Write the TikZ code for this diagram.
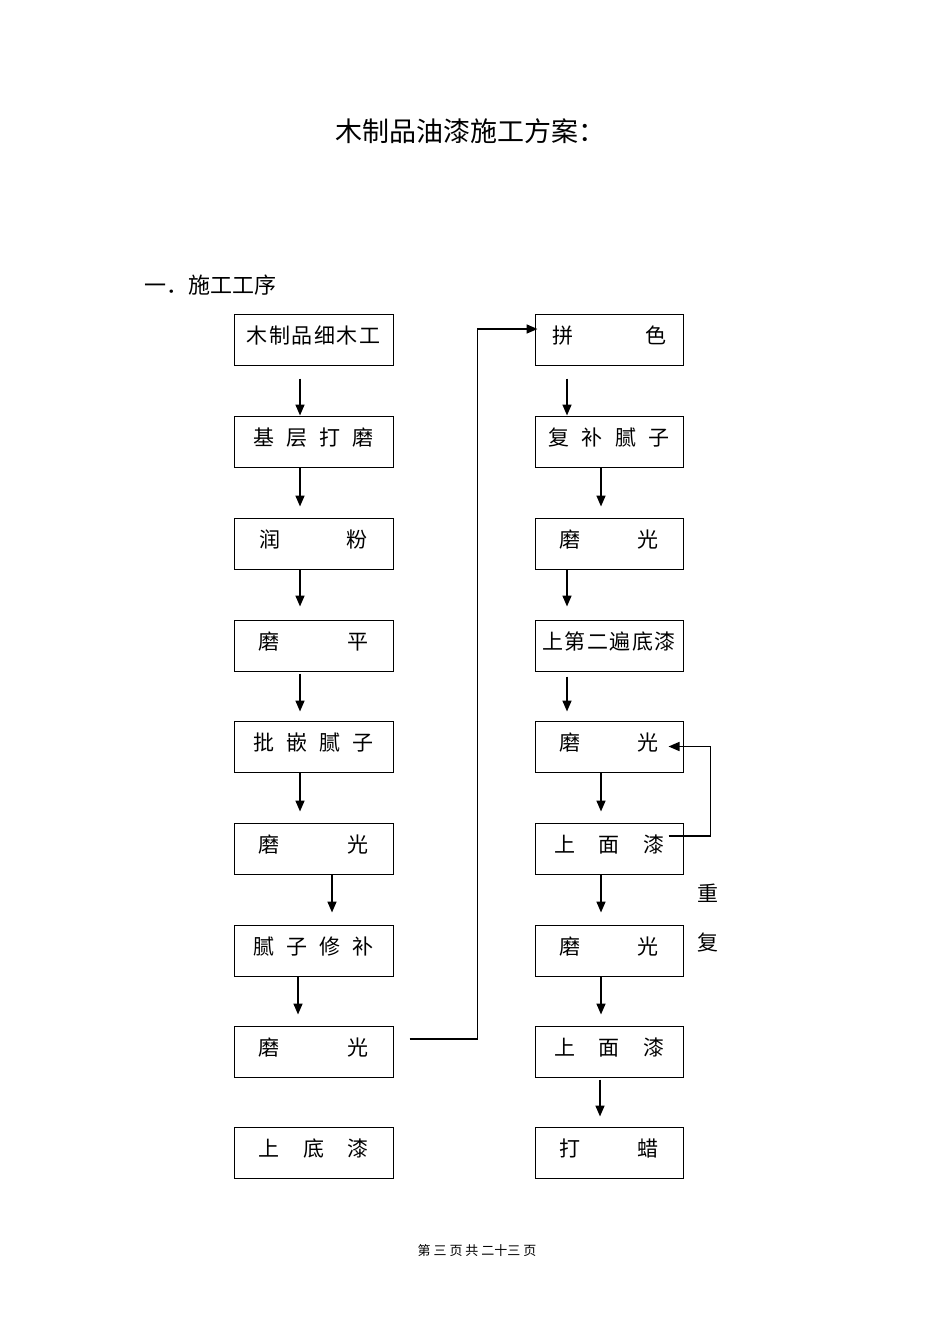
\documentclass[tikz,border=0pt]{standalone}
\usepackage{fontspec}
\newfontfamily\cjk{Noto Sans CJK SC}
\usetikzlibrary{arrows.meta}
\newcommand{\spr}[2]{\makebox[#1pt]{#2}}
\begin{document}
\begin{tikzpicture}[x=1pt,y=-1pt,>={Triangle[length=11pt,width=9pt]},
  box/.style={draw,line width=1pt,minimum height=51pt,inner sep=0pt,
    text height=18pt,text depth=10pt,
    font=\cjk\fontsize{21}{21}\selectfont},
  lbox/.style={box,minimum width=159pt},
  rbox/.style={box,minimum width=148pt},
  arr/.style={->,line width=1.6pt}]
\useasboundingbox (0,0) rectangle (950,1344);

\node[font=\cjk\fontsize{27}{27}\selectfont] (title) at (470,131) {木制品油漆施工方案：};
\node[anchor=west,inner sep=0pt,font=\cjk\fontsize{22}{22}\selectfont] (sec) at (144,285) {一．施工工序};

% left column
\node[lbox] (l1) at (313.5,339.5) {\spr{134}{木\hfill 制\hfill 品\hfill 细\hfill 木\hfill 工}};
\node[lbox] (l2) at (313.5,441.5) {\spr{120}{基\hfill 层\hfill 打\hfill 磨}};
\node[lbox] (l3) at (313.5,543.5) {\spr{108}{润\hfill 粉}};
\node[lbox] (l4) at (313.5,645.5) {\spr{110}{磨\hfill 平}};
\node[lbox] (l5) at (313.5,746.5) {\spr{120}{批\hfill 嵌\hfill 腻\hfill 子}};
\node[lbox] (l6) at (313.5,848.5) {\spr{110}{磨\hfill 光}};
\node[lbox] (l7) at (313.5,950.5) {\spr{121}{腻\hfill 子\hfill 修\hfill 补}};
\node[lbox] (l8) at (313.5,1051.5) {\spr{110}{磨\hfill 光}};
\node[lbox] (l9) at (313.5,1152.5) {\spr{110}{上\hfill 底\hfill 漆}};

% right column
\node[rbox] (r1) at (609,339.5) {\spr{114}{拼\hfill 色}};
\node[rbox] (r2) at (609,441.5) {\spr{122}{复\hfill 补\hfill 腻\hfill 子}};
\node[rbox] (r3) at (609,543.5) {\spr{99}{磨\hfill 光}};
\node[rbox] (r4) at (609,645.5) {\spr{134}{上\hfill 第\hfill 二\hfill 遍\hfill 底\hfill 漆}};
\node[rbox] (r5) at (609,746.5) {\spr{99}{磨\hfill 光}};
\node[rbox] (r6) at (609,848.5) {\spr{110}{上\hfill 面\hfill 漆}};
\node[rbox] (r7) at (609,950.5) {\spr{99}{磨\hfill 光}};
\node[rbox] (r8) at (609,1051.5) {\spr{110}{上\hfill 面\hfill 漆}};
\node[rbox] (r9) at (609,1152.5) {\spr{99}{打\hfill 蜡}};

\node[font=\cjk\fontsize{21}{21}\selectfont] (chong) at (708,893) {重};
\node[font=\cjk\fontsize{21}{21}\selectfont] (fu) at (708,943) {复};

% arrows
\draw[arr,shorten <=13pt] ([xshift=-13.5pt]l1.south) -- ([xshift=-13.5pt]l2.north);
\draw[arr,shorten >=11pt] ([xshift=-13.5pt]l2.south) -- ([xshift=-13.5pt]l3.north);
\draw[arr,shorten >=13pt] ([xshift=-13.5pt]l3.south) -- ([xshift=-13.5pt]l4.north);
\draw[arr,shorten <=2pt,shorten >=9pt] ([xshift=-13.5pt]l4.south) -- ([xshift=-13.5pt]l5.north);
\draw[arr,shorten >=11pt] ([xshift=-13.5pt]l5.south) -- ([xshift=-13.5pt]l6.north);
\draw[arr,shorten >=12pt] ([xshift=18.5pt]l6.south) -- ([xshift=18.5pt]l7.north);
\draw[arr,shorten >=11pt] ([xshift=-15.5pt]l7.south) -- ([xshift=-15.5pt]l8.north);

\draw[arr] ([xshift=16pt,yshift=12.5pt]l8.east) -| ([xshift=-57pt,yshift=10.5pt]r1.west)
  -- ([xshift=3pt,yshift=10.5pt]r1.west);

\draw[arr,shorten <=13pt] ([xshift=-42pt]r1.south) -- ([xshift=-42pt]r2.north);
\draw[arr,shorten >=11pt] ([xshift=-8pt]r2.south) -- ([xshift=-8pt]r3.north);
\draw[arr,shorten >=13pt] ([xshift=-42pt]r3.south) -- ([xshift=-42pt]r4.north);
\draw[arr,shorten <=5pt,shorten >=9pt] ([xshift=-42pt]r4.south) -- ([xshift=-42pt]r5.north);
\draw[arr,shorten >=11pt] ([xshift=-8pt]r5.south) -- ([xshift=-8pt]r6.north);
\draw[arr,shorten >=12pt] ([xshift=-8pt]r6.south) -- ([xshift=-8pt]r7.north);
\draw[arr,shorten >=11pt] ([xshift=-8pt]r7.south) -- ([xshift=-8pt]r8.north);
\draw[arr,shorten <=2pt,shorten >=10pt] ([xshift=-9pt]r8.south) -- ([xshift=-9pt]r9.north);

\draw[arr] ([xshift=-15pt,yshift=12.5pt]r6.east) -| ([xshift=27pt]r5.east)
  -- ([xshift=-15pt]r5.east);

\node[font=\cjk\fontsize{13}{13}\selectfont] (page) at (477,1251) {第 三 页 共 二十三 页};
\end{tikzpicture}
\end{document}
